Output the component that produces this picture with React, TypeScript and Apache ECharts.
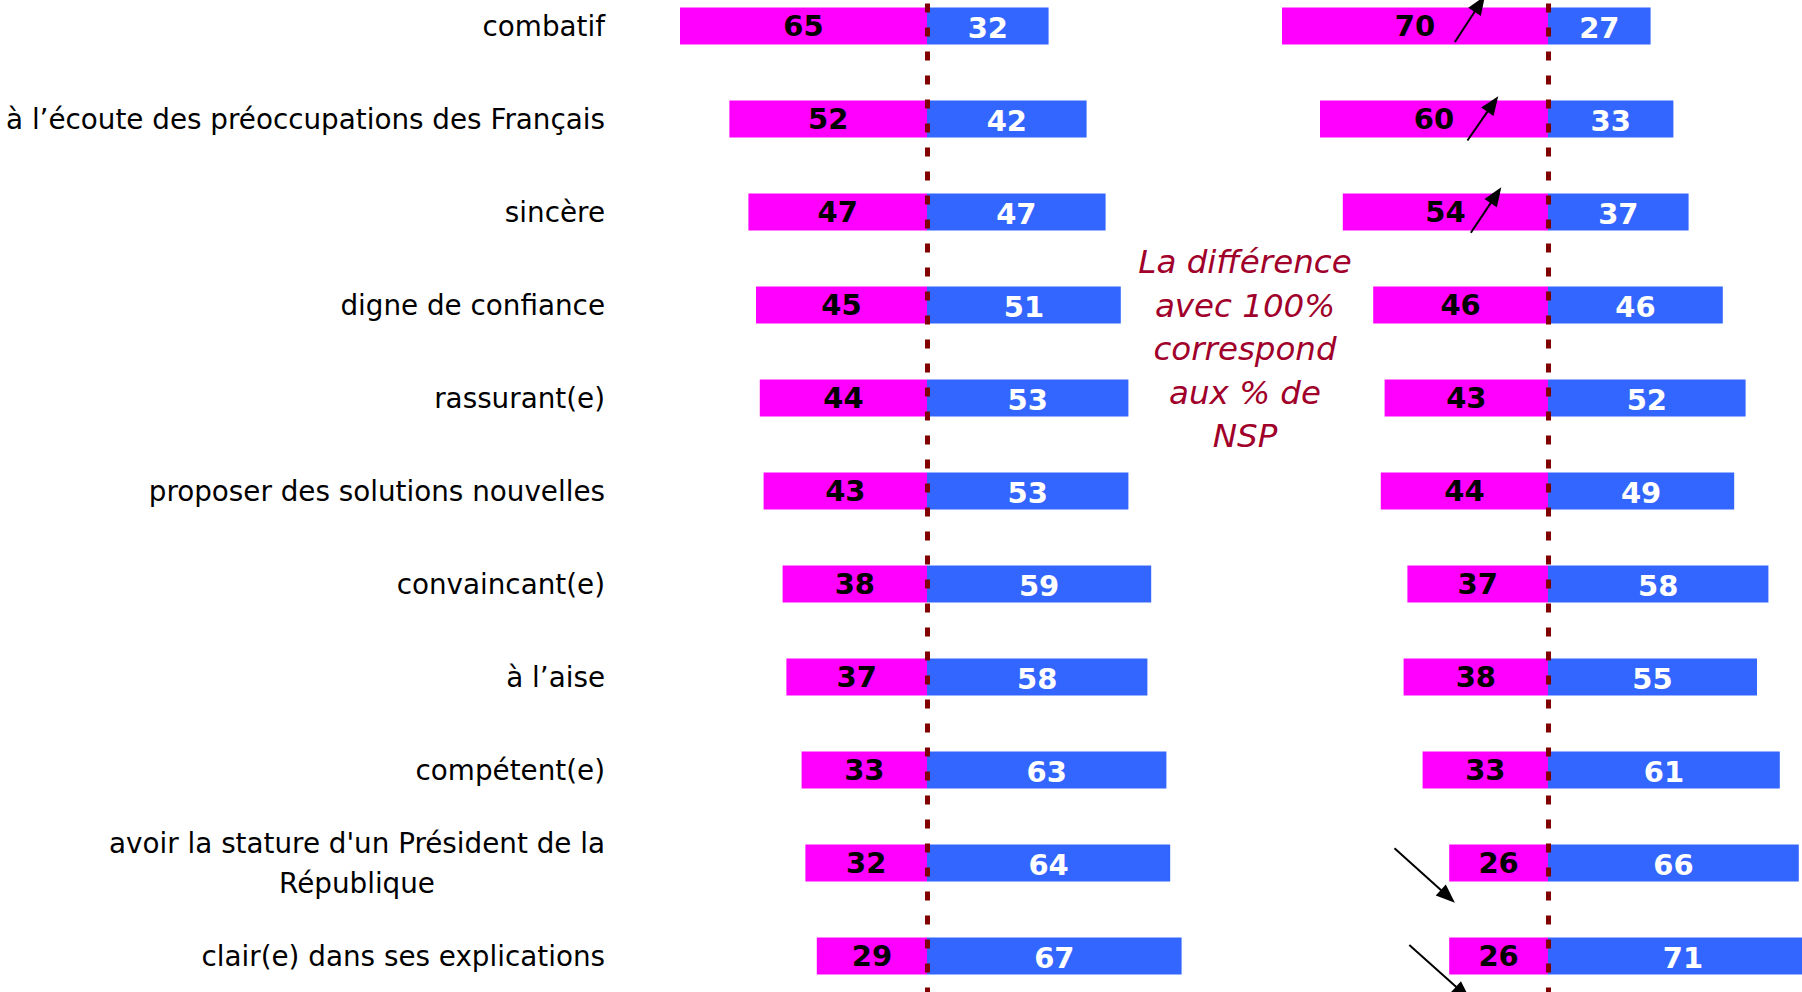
import React, { useEffect, useRef } from "react";
import * as echarts from "echarts";

const categories: string[] = [
  "combatif",
  "à l’écoute des préoccupations des Français",
  "sincère",
  "digne de confiance",
  "rassurant(e)",
  "proposer des solutions nouvelles",
  "convaincant(e)",
  "à l’aise",
  "compétent(e)",
  "avoir la stature d'un Président de la République",
  "clair(e) dans ses explications",
];

// left panel
const leftNegative: number[] = [65, 52, 47, 45, 44, 43, 38, 37, 33, 32, 29];
const leftPositive: number[] = [32, 42, 47, 51, 53, 53, 59, 58, 63, 64, 67];
// right panel
const rightNegative: number[] = [70, 60, 54, 46, 43, 44, 37, 38, 33, 26, 26];
const rightPositive: number[] = [27, 33, 37, 46, 52, 49, 58, 55, 61, 66, 71];

// evolution arrows on the right panel: category index, start [value, dy px], end [value, dy px]
const arrowCats: number[] = [0, 1, 2, 9, 10];
const arrowFrom: [number, number][] = [[-24.5, 16], [-21.2, 21.5], [-20.3, 20.7], [-40.4, -14.7], [-36.5, -11]];
const arrowTo: [number, number][] = [[-16.6, -30], [-13.1, -22.8], [-12.3, -24.7], [-24.5, 39.7], [-20.5, 43.4]];

const noteText = "La différence\navec 100%\ncorrespond\naux % de\nNSP";

const FONT = "'DejaVu Sans', Verdana, sans-serif";
const PINK = "#FF00FF";
const BLUE = "#3366FF";
const DASH = "#800000";

// the chart canvas is shifted up so that the first band starts above the page
const OFFSET_Y = 21;
const BOX_W = 1900;
const BOX_H = 1024;

function wrapLabel(s: string): string {
  if (s.length <= 45) return s;
  const idx = s.lastIndexOf(" ", 40);
  const lines = [s.slice(0, idx), s.slice(idx + 1)];
  return lines.map((l) => `{c|${l}}`).join("\n");
}

export default function App() {
  const ref = useRef<HTMLDivElement>(null);
  useEffect(() => {
    if (!ref.current) return;
    const chart = echarts.init(ref.current, undefined, { renderer: "svg" });

    const valueLabel = (color: string, dy: number) => ({
      show: true,
      position: "inside",
      formatter: (p: any) => String(Math.abs(p.value)),
      color,
      fontWeight: "bold",
      fontSize: 29,
      fontFamily: FONT,
      offset: [0, dy],
    });

    const dashLine = {
      silent: true,
      symbol: "none",
      label: { show: false },
      emphasis: { disabled: true },
      lineStyle: { color: DASH, width: 5, type: [9, 15], opacity: 1 },
      data: [{ xAxis: 0 }],
    };

    const bandH = 93;
    const gridTop = 26 + OFFSET_Y - bandH / 2;
    const gridH = bandH * categories.length;
    const unit = 3.8;
    const half = 85;
    const gridW = half * 2 * unit;
    const leftC = 927;
    const rightC = 1548;

    const common = { top: gridTop, height: gridH, width: gridW, containLabel: false };

    const option: any = {
      animation: false,
      backgroundColor: "#ffffff",
      grid: [
        { ...common, left: leftC - half * unit },
        { ...common, left: rightC - half * unit },
      ],
      xAxis: [
        { type: "value", gridIndex: 0, min: -half, max: half, show: false },
        { type: "value", gridIndex: 1, min: -half, max: half, show: false },
      ],
      yAxis: [
        {
          type: "category",
          gridIndex: 0,
          inverse: true,
          data: categories,
          axisLine: { show: false },
          axisTick: { show: false },
          splitLine: { show: false },
          axisLabel: {
            show: true,
            margin: -1,
            align: "right",
            color: "#000",
            fontSize: 27.8,
            fontFamily: FONT,
            lineHeight: 40,
            formatter: wrapLabel,
            rich: {
              c: { align: "center", fontSize: 27.8, fontFamily: FONT, color: "#000", lineHeight: 40 },
            },
          },
        },
        {
          type: "category",
          gridIndex: 1,
          inverse: true,
          data: categories,
          axisLine: { show: false },
          axisTick: { show: false },
          splitLine: { show: false },
          axisLabel: { show: false },
        },
      ],
      series: [
        {
          type: "bar",
          xAxisIndex: 0,
          yAxisIndex: 0,
          stack: "L",
          barWidth: 37,
          data: leftNegative.map((v) => -v),
          itemStyle: { color: PINK },
          label: valueLabel("#000", 0),
        },
        {
          type: "bar",
          xAxisIndex: 0,
          yAxisIndex: 0,
          stack: "L",
          barWidth: 37,
          data: leftPositive,
          itemStyle: { color: BLUE },
          label: valueLabel("#fff", 2),
          markLine: dashLine,
        },
        {
          type: "bar",
          xAxisIndex: 1,
          yAxisIndex: 1,
          stack: "R",
          barWidth: 37,
          data: rightNegative.map((v) => -v),
          itemStyle: { color: PINK },
          label: valueLabel("#000", 0),
        },
        {
          type: "bar",
          xAxisIndex: 1,
          yAxisIndex: 1,
          stack: "R",
          barWidth: 37,
          data: rightPositive,
          itemStyle: { color: BLUE },
          label: valueLabel("#fff", 2),
          markLine: dashLine,
        },
      ],
    };
    chart.setOption(option);

    // arrows positioned from data coordinates of the right panel
    const graphics: any[] = [];
    arrowCats.forEach((ci, i) => {
      const a = chart.convertToPixel({ gridIndex: 1 }, [arrowFrom[i][0], categories[ci]]) as number[];
      const b = chart.convertToPixel({ gridIndex: 1 }, [arrowTo[i][0], categories[ci]]) as number[];
      const x1 = a[0], y1 = a[1] + arrowFrom[i][1];
      const x2 = b[0], y2 = b[1] + arrowTo[i][1];
      const dx = x2 - x1, dy = y2 - y1;
      const len = Math.sqrt(dx * dx + dy * dy);
      const ux = dx / len, uy = dy / len;
      const headL = 19, headW = 7.5;
      const bx = x2 - ux * headL, by = y2 - uy * headL;
      const nx = -uy, ny = ux;
      graphics.push({
        type: "line",
        silent: true,
        z: 100,
        shape: { x1, y1, x2: bx + ux * 2, y2: by + uy * 2 },
        style: { stroke: "#000", lineWidth: 2 },
      });
      graphics.push({
        type: "polygon",
        silent: true,
        z: 100,
        shape: { points: [[x2, y2], [bx + nx * headW, by + ny * headW], [bx - nx * headW, by - ny * headW]] },
        style: { fill: "#000" },
      });
    });
    graphics.push({
      type: "text",
      silent: true,
      z: 100,
      x: 1245,
      y: 349 + OFFSET_Y,
      style: {
        text: noteText,
        fill: "#A0002A",
        fontSize: 32.5,
        fontStyle: "italic",
        fontFamily: FONT,
        lineHeight: 43.5,
        align: "center",
        verticalAlign: "middle",
        textAlign: "center",
        textVerticalAlign: "middle",
      },
    });
    chart.setOption({ graphic: graphics });

    return () => chart.dispose();
  }, []);

  return (
    <div
      ref={ref}
      style={{ position: "fixed", left: 0, top: -OFFSET_Y, width: BOX_W, height: BOX_H, background: "#fff" }}
    />
  );
}
